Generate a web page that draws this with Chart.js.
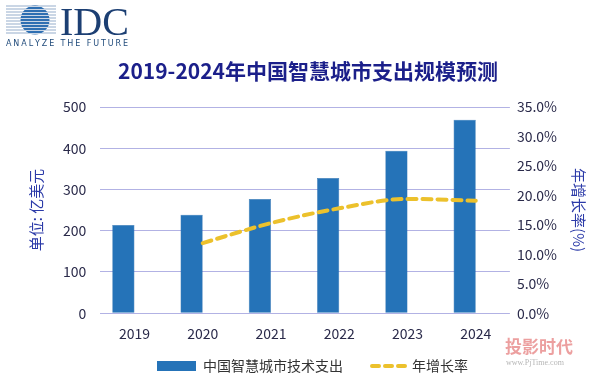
<!DOCTYPE html>
<html>
<head>
<meta charset="utf-8">
<script src="https://cdn.jsdelivr.net/npm/chart.js@4"></script>
<style>
  html, body { margin: 0; padding: 0; background: #fff; }
  #wrap { width: 600px; height: 384px; }
</style>
</head>
<body>
<div id="wrap"><canvas id="c" width="600" height="384"></canvas></div>
<script>
// 数据
const years = ['2019', '2020', '2021', '2022', '2023', '2024'];
const spending = [214, 239, 277, 328, 394, 469];          // 亿美元
const growth = [null, 11.9, 15.3, 17.8, 19.4, 19.1];      // %
const leftTicks = [0, 100, 200, 300, 400, 500];
const rightTicks = [0, 5, 10, 15, 20, 25, 30, 35];

const CJK = '"Noto Sans CJK SC", "Noto Sans", sans-serif';
const BAR = '#2573b8';
const LINE = '#ecc12c';

// 画 logo、标题、图例
const decor = {
  id: 'decor',
  afterDraw(chart) {
    const ctx = chart.ctx;
    ctx.save();
    // logo 条纹圆
    for (let y = 6; y <= 34; y += 3) {
      ctx.strokeStyle = '#b8c8dc';
      ctx.lineWidth = 1.6;
      ctx.beginPath(); ctx.moveTo(6, y); ctx.lineTo(56, y); ctx.stroke();
    }
    ctx.save();
    ctx.beginPath(); ctx.arc(35, 20, 14.5, 0, Math.PI * 2); ctx.clip();
    for (let y = 5; y <= 35; y += 3) {
      ctx.strokeStyle = '#2e6fb2';
      ctx.lineWidth = 2.2;
      ctx.beginPath(); ctx.moveTo(18, y); ctx.lineTo(52, y); ctx.stroke();
    }
    ctx.restore();
    ctx.fillStyle = '#1c3f73';
    ctx.font = '40px "Liberation Serif", serif';
    ctx.textBaseline = 'alphabetic';
    ctx.textAlign = 'left';
    ctx.fillText('IDC', 60, 35);
    ctx.font = '8px "DejaVu Sans", sans-serif';
    ctx.fillStyle = '#1f4a7a';
    const tag = 'ANALYZE THE FUTURE';
    let x = 6;
    for (const ch of tag) {
      ctx.fillText(ch, x, 46);
      x += ctx.measureText(ch).width + 1.9;
    }

    // 标题
    ctx.fillStyle = '#1b1f8a';
    ctx.textAlign = 'center';
    ctx.textBaseline = 'middle';
    ctx.font = 'bold 21px ' + CJK;
    ctx.fillText('2019-2024年中国智慧城市支出规模预测', 308, 71);

    // 图例
    ctx.textAlign = 'left';
    ctx.fillStyle = BAR;
    ctx.fillRect(157, 361, 39, 10);
    ctx.fillStyle = '#333';
    ctx.font = '14px ' + CJK;
    ctx.fillText('中国智慧城市技术支出', 203, 366);
    ctx.strokeStyle = LINE;
    ctx.lineWidth = 4;
    ctx.lineCap = 'round';
    ctx.setLineDash([7, 6]);
    ctx.beginPath(); ctx.moveTo(372, 366); ctx.lineTo(406, 366); ctx.stroke();
    ctx.setLineDash([]);
    ctx.fillText('年增长率', 412, 366);

    // 水印
    ctx.textAlign = 'left';
    ctx.fillStyle = 'rgba(220,80,80,0.55)';
    ctx.font = 'bold 17px ' + CJK;
    ctx.fillText('投影时代', 505, 347);
    ctx.fillStyle = 'rgba(150,150,150,0.7)';
    ctx.font = '8px "Liberation Serif", serif';
    ctx.fillText('www.PjTime.com', 506, 363);
    ctx.restore();
  }
};

new Chart(document.getElementById('c'), {
  data: {
    labels: years,
    datasets: [
      {
        type: 'line',
        label: '年增长率',
        data: growth,
        yAxisID: 'y1',
        borderColor: LINE,
        borderWidth: 4,
        borderDash: [9, 6],
        borderCapStyle: 'round',
        cubicInterpolationMode: 'monotone',
        pointRadius: 0,
        fill: false,
        order: 0
      },
      {
        type: 'bar',
        label: '中国智慧城市技术支出',
        data: spending,
        yAxisID: 'y',
        backgroundColor: BAR,
        borderColor: '#1f64a6',
        borderWidth: 0.5,
        barPercentage: 1,
        categoryPercentage: 0.65,
        order: 1
      },
      {
        // 空柱，占位让柱子偏左（与原图一致）
        type: 'bar',
        label: '',
        data: years.map(() => null),
        yAxisID: 'y',
        barPercentage: 1,
        categoryPercentage: 0.65,
        order: 2
      }
    ]
  },
  options: {
    responsive: false,
    animation: false,
    layout: { padding: { top: 107, left: 23, right: 6, bottom: 38 } },
    plugins: {
      legend: { display: false },
      title: { display: false },
      tooltip: { enabled: false }
    },
    scales: {
      x: {
        grid: { display: false },
        border: { display: false },
        ticks: { color: '#2a2a4a', font: { size: 14, family: CJK }, padding: 4 }
      },
      y: {
        position: 'left',
        min: 0,
        max: 500,
        afterBuildTicks(axis) { axis.ticks = leftTicks.map(v => ({ value: v })); },
        grid: { color: '#b2b2e4', lineWidth: 1, drawTicks: false },
        border: { display: false },
        ticks: { color: '#2a2a4a', font: { size: 14, family: CJK }, padding: 14 },
        title: { display: true, text: '单位: 亿美元', color: '#2b3aa8', font: { size: 15, family: CJK }, padding: 4 }
      },
      y1: {
        position: 'right',
        min: 0,
        max: 35,
        afterBuildTicks(axis) { axis.ticks = rightTicks.map(v => ({ value: v })); },
        grid: { display: false, drawTicks: false },
        border: { display: false },
        ticks: {
          color: '#2a2a4a',
          font: { size: 14, family: CJK },
          padding: 7,
          callback: v => Number(v).toFixed(1) + '%'
        },
        title: { display: true, text: '年增长率(%)', color: '#2b3aa8', font: { size: 15, family: CJK }, padding: 6 }
      }
    }
  },
  plugins: [decor]
});
</script>
</body>
</html>
